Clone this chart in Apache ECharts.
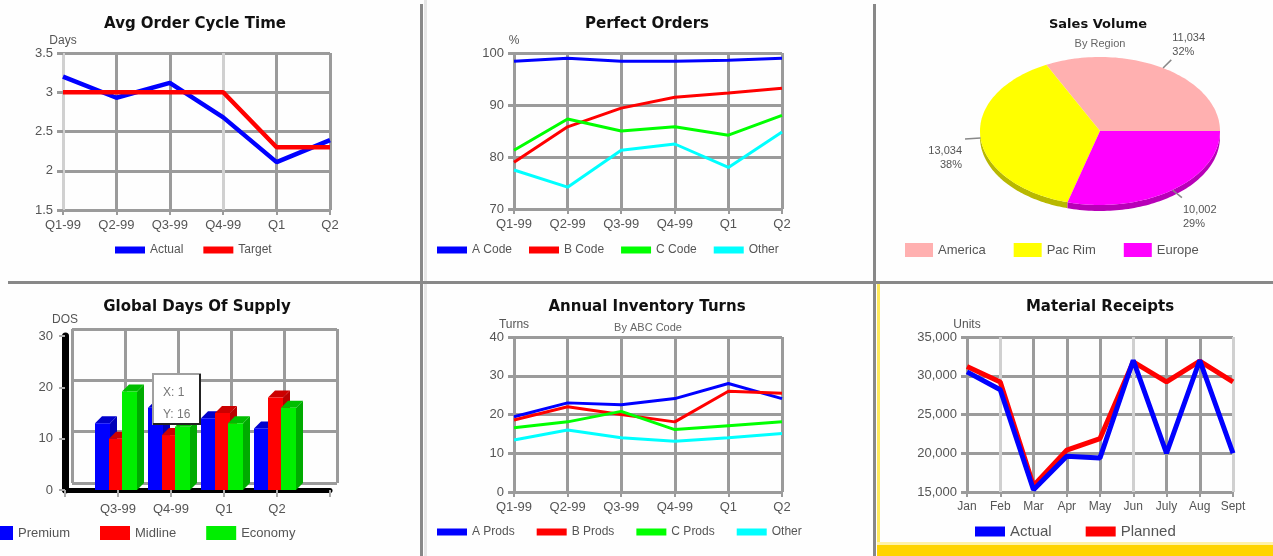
<!DOCTYPE html>
<html>
<head>
<meta charset="utf-8">
<title>Supply chain dashboard</title>
<script src="https://cdn.jsdelivr.net/npm/echarts@6/dist/echarts.min.js"></script>
<style>
    html, body { margin: 0; padding: 0; background: #fefefe; }
    body { position: relative; width: 1273px; height: 556px; overflow: hidden; }
    .chart { position: absolute; }
    .rule { position: absolute; background: #888; }
</style>
</head>
<body>
<div class="rule" style="left:424px;top:0;width:3px;height:556px;background:#e6e6e6"></div>
<div class="rule" style="left:420px;top:4px;width:3px;height:552px"></div>
<div class="rule" style="left:873px;top:4px;width:3px;height:552px"></div>
<div class="rule" style="left:8px;top:281px;width:1265px;height:3px"></div>
<div class="rule" style="left:877px;top:284px;width:3px;height:272px;background:#ffe95a"></div>
<div class="rule" style="left:877px;top:542px;width:396px;height:3px;background:#fff2a8"></div>
<div class="rule" style="left:877px;top:545px;width:396px;height:11px;background:#ffd400"></div>

<div class="chart" id="cycle" style="left:0;top:0;width:420px;height:280px"></div>
<div class="chart" id="perfect" style="left:425px;top:0;width:448px;height:280px"></div>
<div class="chart" id="sales" style="left:877px;top:0;width:396px;height:280px"></div>
<div class="chart" id="supply" style="left:0;top:284px;width:420px;height:272px"></div>
<div class="chart" id="turns" style="left:425px;top:284px;width:448px;height:272px"></div>
<div class="chart" id="receipts" style="left:880px;top:284px;width:393px;height:258px"></div>

<script>
// data
const quarters = ['Q1-99', 'Q2-99', 'Q3-99', 'Q4-99', 'Q1', 'Q2'];

const cycleActual = [3.2, 2.93, 3.12, 2.68, 2.11, 2.39];
const cycleTarget = [3.0, 3.0, 3.0, 3.0, 2.3, 2.3];
const cycleScale = [1.5, 3.5, 0.5];

const perfectA = [98.4, 99, 98.4, 98.4, 98.6, 99];
const perfectB = [79, 85.8, 89.4, 91.5, 92.3, 93.2];
const perfectC = [81.3, 87.3, 85, 85.8, 84.2, 88];
const perfectOther = [77.5, 74.2, 81.3, 82.5, 78, 84.8];
const perfectScale = [70, 100, 10];

const regions = ['America', 'Pac Rim', 'Europe'];
const regionVolume = [11034, 13034, 10002];

const supplyQuarters = ['', 'Q3-99', 'Q4-99', 'Q1', 'Q2', ''];
const supplyNames = ['Premium', 'Midline', 'Economy'];
const premium = [13, 16, 14, 12];
const midline = [10, 10.7, 15, 18];
const economy = [19.2, 12.3, 13, 16];
const supplyScale = [0, 30, 10];
const hoverIndex = 1;

const turnsA = [19.4, 23, 22.5, 24.1, 28, 24.1];
const turnsB = [18.6, 22, 20, 18.1, 26, 25.5];
const turnsC = [16.6, 18.1, 20.8, 16.1, 17.1, 18.1];
const turnsOther = [13.4, 16, 14, 13.1, 14, 15.1];
const turnsScale = [0, 40, 10];

const months = ['Jan', 'Feb', 'Mar', 'Apr', 'May', 'Jun', 'July', 'Aug', 'Sept'];
const receiptsActual = [30500, 28200, 15300, 19600, 19400, 32000, 20000, 32000, 20000];
const receiptsPlanned = [31200, 29200, 15800, 20400, 21900, 31800, 29200, 31900, 29200];
const receiptsScale = [15000, 35000, 5000];

// look
const FONT = '"Liberation Sans", Arial, Helvetica, sans-serif';
const TITLE_FONT = '"DejaVu Sans", Verdana, sans-serif';
const DARK = '#9b9b9b';
const LIGHT = '#d0d0d0';
const TEXT = '#555';
const BLUE = '#0000ff', RED = '#ff0000', GREEN = '#00ff00', CYAN = '#00ffff';

function makeChart(id, option) {
    const chart = echarts.init(document.getElementById(id));
    chart.setOption(Object.assign({ animation: false, textStyle: { fontFamily: FONT } }, option));
    return chart;
}

function shade(hex, k) {
    const n = parseInt(hex.slice(1), 16);
    return 'rgb(' + Math.round((n >> 16 & 255) * k) + ',' + Math.round((n >> 8 & 255) * k) + ',' + Math.round((n & 255) * k) + ')';
}

function heading(text, x, top, size) {
    return { text: text, left: x, top: top, textAlign: 'center', padding: 0,
        textStyle: { fontFamily: TITLE_FONT, fontSize: size || 15, fontWeight: 'bold', color: '#111' } };
}

function subheading(text, x, top) {
    return { text: text, left: x, top: top, textAlign: 'center', padding: 0,
        textStyle: { fontFamily: FONT, fontSize: 11, fontWeight: 'normal', color: '#666' } };
}

function legendAt(left, top, extra) {
    return Object.assign({ left: left, top: top, icon: 'rect', itemWidth: 30, itemHeight: 7, itemGap: 17,
        padding: 0, selectedMode: false, textStyle: { color: TEXT, fontFamily: FONT, fontSize: 12 } }, extra);
}

function catAxis(data, lineColors, fontSize) {
    return { type: 'category', boundaryGap: false, data: data,
        axisLine: { show: false },
        axisTick: { show: true, length: 5, lineStyle: { color: DARK, width: 2 } },
        axisLabel: { color: TEXT, fontFamily: FONT, fontSize: fontSize || 13, margin: 9, interval: 0 },
        splitLine: { show: true, lineStyle: { color: lineColors || DARK, width: 3 } } };
}

function valAxis(scale, name, nameGap, formatter) {
    return { type: 'value', min: scale[0], max: scale[1], interval: scale[2],
        name: name, nameLocation: 'end', nameGap: nameGap,
        nameTextStyle: { color: TEXT, fontFamily: FONT, fontSize: 12 },
        axisLine: { show: false },
        axisTick: { show: true, length: 6, lineStyle: { color: DARK, width: 3 } },
        axisLabel: { color: TEXT, fontFamily: FONT, fontSize: 13, margin: 10, formatter: formatter },
        splitLine: { show: true, lineStyle: { color: DARK, width: 3 } } };
}

function lineSeries(name, data, color, width, z) {
    return { type: 'line', name: name, data: data, symbol: 'none', showSymbol: false, z: z || 2,
        itemStyle: { color: color }, lineStyle: { color: color, width: width }, emphasis: { disabled: true } };
}

const thousands = function (v) { return v.toLocaleString('en-US'); };

// Avg Order Cycle Time
makeChart('cycle', {
    title: heading('Avg Order Cycle Time', 195, 17),
    legend: legendAt(115, 244, { itemGap: 20, data: ['Actual', 'Target'] }),
    grid: { left: 63, right: 90, top: 53, bottom: 70, outerBoundsMode: 'none' },
    xAxis: catAxis(quarters, [LIGHT, DARK, DARK]),
    yAxis: valAxis(cycleScale, 'Days', 6),
    series: [
        lineSeries('Actual', cycleActual, BLUE, 4.5),
        lineSeries('Target', cycleTarget, RED, 4.5)
    ]
});

// Perfect Orders
makeChart('perfect', {
    title: heading('Perfect Orders', 222, 17),
    legend: legendAt(12, 244, { itemGap: 17, data: ['A Code', 'B Code', 'C Code', 'Other'] }),
    grid: { left: 89, right: 91, top: 53, bottom: 71, outerBoundsMode: 'none' },
    xAxis: catAxis(quarters),
    yAxis: valAxis(perfectScale, '%', 6),
    series: [
        lineSeries('A Code', perfectA, BLUE, 3),
        lineSeries('B Code', perfectB, RED, 3),
        lineSeries('C Code', perfectC, GREEN, 3),
        lineSeries('Other', perfectOther, CYAN, 3)
    ]
});

// Sales Volume: tilted pie drawn as ellipse slices
const PIE = { cx: 223, cy: 131, rx: 120, ry: 74, depth: 6 };
const pieColors = ['#ffb0b0', '#ffff00', '#ff00ff'];
const volumeTotal = regionVolume.reduce(function (a, b) { return a + b; }, 0);

function ellipseSlice(params, api) {
    const value = api.value(0), start = api.value(1), total = api.value(2);
    const a0 = start / total * Math.PI * 2;
    const a1 = (start + value) / total * Math.PI * 2;
    const color = api.visual('color');
    const pt = function (t, k, dy) {
        return [PIE.cx + PIE.rx * k * Math.cos(t), PIE.cy - PIE.ry * k * Math.sin(t) + (dy || 0)];
    };
    const steps = 72;
    const children = [];

    const r0 = Math.max(a0, Math.PI), r1 = Math.min(a1, Math.PI * 2);
    if (r1 > r0) {
        const upper = [], lower = [];
        for (let k = 0; k <= steps; k++) {
            const t = r0 + (r1 - r0) * k / steps;
            upper.push(pt(t, 1));
            lower.push(pt(t, 1, PIE.depth));
        }
        children.push({ type: 'polygon', shape: { points: upper.concat(lower.reverse()) },
            style: { fill: shade(color, 0.72) } });
    }

    const face = [[PIE.cx, PIE.cy]];
    for (let k = 0; k <= steps; k++) face.push(pt(a0 + (a1 - a0) * k / steps, 1));
    children.push({ type: 'polygon', shape: { points: face }, style: { fill: color } });

    const mid = (a0 + a1) / 2;
    const edge = pt(mid, 1);
    const out = pt(mid, 1.13);
    const right = Math.cos(mid) > 0, below = Math.sin(mid) < 0;
    children.push({ type: 'line', shape: { x1: edge[0], y1: edge[1], x2: out[0], y2: out[1] },
        style: { stroke: '#888', lineWidth: 1.5 } });
    children.push({ type: 'text', x: out[0] + (right ? 1 : -3), y: out[1] + (below ? 5 : -1),
        style: { text: thousands(value) + '\n' + Math.round(value / total * 100) + '%',
            align: right ? 'left' : 'right', verticalAlign: below ? 'top' : 'bottom',
            fontFamily: FONT, fontSize: 11, lineHeight: 14, fill: TEXT } });
    return { type: 'group', children: children };
}

let running = 0;
makeChart('sales', {
    title: [heading('Sales Volume', 221, 18, 13), subheading('By Region', 223, 38)],
    legend: legendAt(28, 243, { itemWidth: 28, itemHeight: 14, itemGap: 28, data: regions,
        textStyle: { color: TEXT, fontFamily: FONT, fontSize: 13 } }),
    series: regions.map(function (name, i) {
        const start = running;
        running += regionVolume[i];
        return { type: 'custom', name: name, coordinateSystem: 'none',
            itemStyle: { color: pieColors[i] },
            data: [[regionVolume[i], start, volumeTotal]],
            renderItem: ellipseSlice };
    })
});

// Global Days Of Supply: 3D columns
const BAR_W = 15, DEPTH = 7;
const barOffsets = [-23, -9, 4];
const supplyColors = [BLUE, RED, '#00ee00'];
const supplyData = [premium, midline, economy];

function column3d(offset) {
    return function (params, api) {
        const base = api.coord([api.value(0), 0]);
        const top = api.coord([api.value(0), api.value(1)]);
        const x0 = base[0] + offset, x1 = x0 + BAR_W;
        const y0 = top[1], y1 = base[1];
        const color = api.visual('color');
        return { type: 'group', children: [
            { type: 'polygon', shape: { points: [[x1, y0], [x1 + DEPTH, y0 - DEPTH], [x1 + DEPTH, y1 - DEPTH], [x1, y1]] },
                style: { fill: shade(color, 0.72) } },
            { type: 'polygon', shape: { points: [[x0, y0], [x0 + DEPTH, y0 - DEPTH], [x1 + DEPTH, y0 - DEPTH], [x1, y0]] },
                style: { fill: shade(color, 0.8) } },
            { type: 'rect', shape: { x: x0, y: y0, width: BAR_W, height: y1 - y0 }, style: { fill: color } }
        ] };
    };
}

makeChart('supply', {
    title: heading('Global Days Of Supply', 197, 16),
    legend: legendAt(-17, 242, { itemHeight: 14, itemGap: 30, data: supplyNames,
        textStyle: { color: TEXT, fontFamily: FONT, fontSize: 13 } }),
    grid: [
        { left: 72, right: 83, top: 45, bottom: 73, outerBoundsMode: 'none' },
        { left: 65, right: 90, top: 52, bottom: 66, outerBoundsMode: 'none' }
    ],
    xAxis: [
        { gridIndex: 0, type: 'category', boundaryGap: false, data: supplyQuarters,
            axisLine: { show: false }, axisTick: { show: false }, axisLabel: { show: false },
            splitLine: { show: true, lineStyle: { color: DARK, width: 3 } } },
        { gridIndex: 1, type: 'category', boundaryGap: false, data: supplyQuarters,
            axisLine: { show: true, lineStyle: { color: '#000', width: 5 } },
            axisTick: { show: true, length: 7, lineStyle: { color: '#aaa', width: 2 } },
            axisLabel: { color: TEXT, fontFamily: FONT, fontSize: 13, margin: 13, interval: 0 },
            splitLine: { show: false } }
    ],
    yAxis: [
        { gridIndex: 0, type: 'value', min: supplyScale[0], max: supplyScale[1], interval: supplyScale[2],
            axisLine: { show: false }, axisTick: { show: false }, axisLabel: { show: false },
            splitLine: { show: true, lineStyle: { color: DARK, width: 3 } } },
        { gridIndex: 1, type: 'value', min: supplyScale[0], max: supplyScale[1], interval: supplyScale[2],
            name: 'DOS', nameLocation: 'end', nameGap: 10,
            nameTextStyle: { color: TEXT, fontFamily: FONT, fontSize: 12 },
            axisLine: { show: true, lineStyle: { color: '#000', width: 7 } },
            axisTick: { show: true, length: 6, lineStyle: { color: '#aaa', width: 2 } },
            axisLabel: { color: TEXT, fontFamily: FONT, fontSize: 13, margin: 12, padding: [7, 0, 0, 0] },
            splitLine: { show: false } }
    ],
    graphic: [
        { type: 'rect', z: 50, shape: { x: 153, y: 90, width: 47, height: 50 },
            style: { fill: '#fff', stroke: '#a0a0a0', lineWidth: 2 } },
        { type: 'polyline', z: 51, shape: { points: [[200, 90], [200, 140], [153, 140]] },
            style: { stroke: '#222', lineWidth: 2, fill: null } },
        { type: 'text', z: 52, x: 163, y: 98,
            style: { text: 'X: ' + hoverIndex + '\nY: ' + premium[hoverIndex], fill: '#777',
                fontFamily: FONT, fontSize: 12, lineHeight: 22 } }
    ],
    series: supplyNames.map(function (name, s) {
        return { type: 'custom', name: name, xAxisIndex: 1, yAxisIndex: 1,
            itemStyle: { color: supplyColors[s] },
            data: supplyData[s].map(function (v, i) { return [i + 1, v]; }),
            renderItem: column3d(barOffsets[s]) };
    })
});

// Annual Inventory Turns
makeChart('turns', {
    title: [heading('Annual Inventory Turns', 222, 16), subheading('By ABC Code', 223, 38)],
    legend: legendAt(12, 242, { itemGap: 22, data: ['A Prods', 'B Prods', 'C Prods', 'Other'] }),
    grid: { left: 89, right: 91, top: 53, bottom: 64, outerBoundsMode: 'none' },
    xAxis: catAxis(quarters),
    yAxis: valAxis(turnsScale, 'Turns', 6),
    series: [
        lineSeries('A Prods', turnsA, BLUE, 3),
        lineSeries('B Prods', turnsB, RED, 3),
        lineSeries('C Prods', turnsC, GREEN, 3),
        lineSeries('Other', turnsOther, CYAN, 3)
    ]
});

// Material Receipts
makeChart('receipts', {
    title: heading('Material Receipts', 220, 16),
    legend: legendAt(95, 240, { itemHeight: 10, itemGap: 34, data: ['Actual', 'Planned'],
        textStyle: { color: TEXT, fontFamily: FONT, fontSize: 15 } }),
    grid: { left: 87, right: 40, top: 53, bottom: 50, outerBoundsMode: 'none' },
    xAxis: catAxis(months, [DARK, LIGHT, DARK, DARK, DARK, LIGHT, DARK, DARK, LIGHT], 12),
    yAxis: valAxis(receiptsScale, 'Units', 6, thousands),
    series: [
        lineSeries('Actual', receiptsActual, BLUE, 5, 3),
        lineSeries('Planned', receiptsPlanned, RED, 5, 2)
    ]
});
</script>
</body>
</html>
